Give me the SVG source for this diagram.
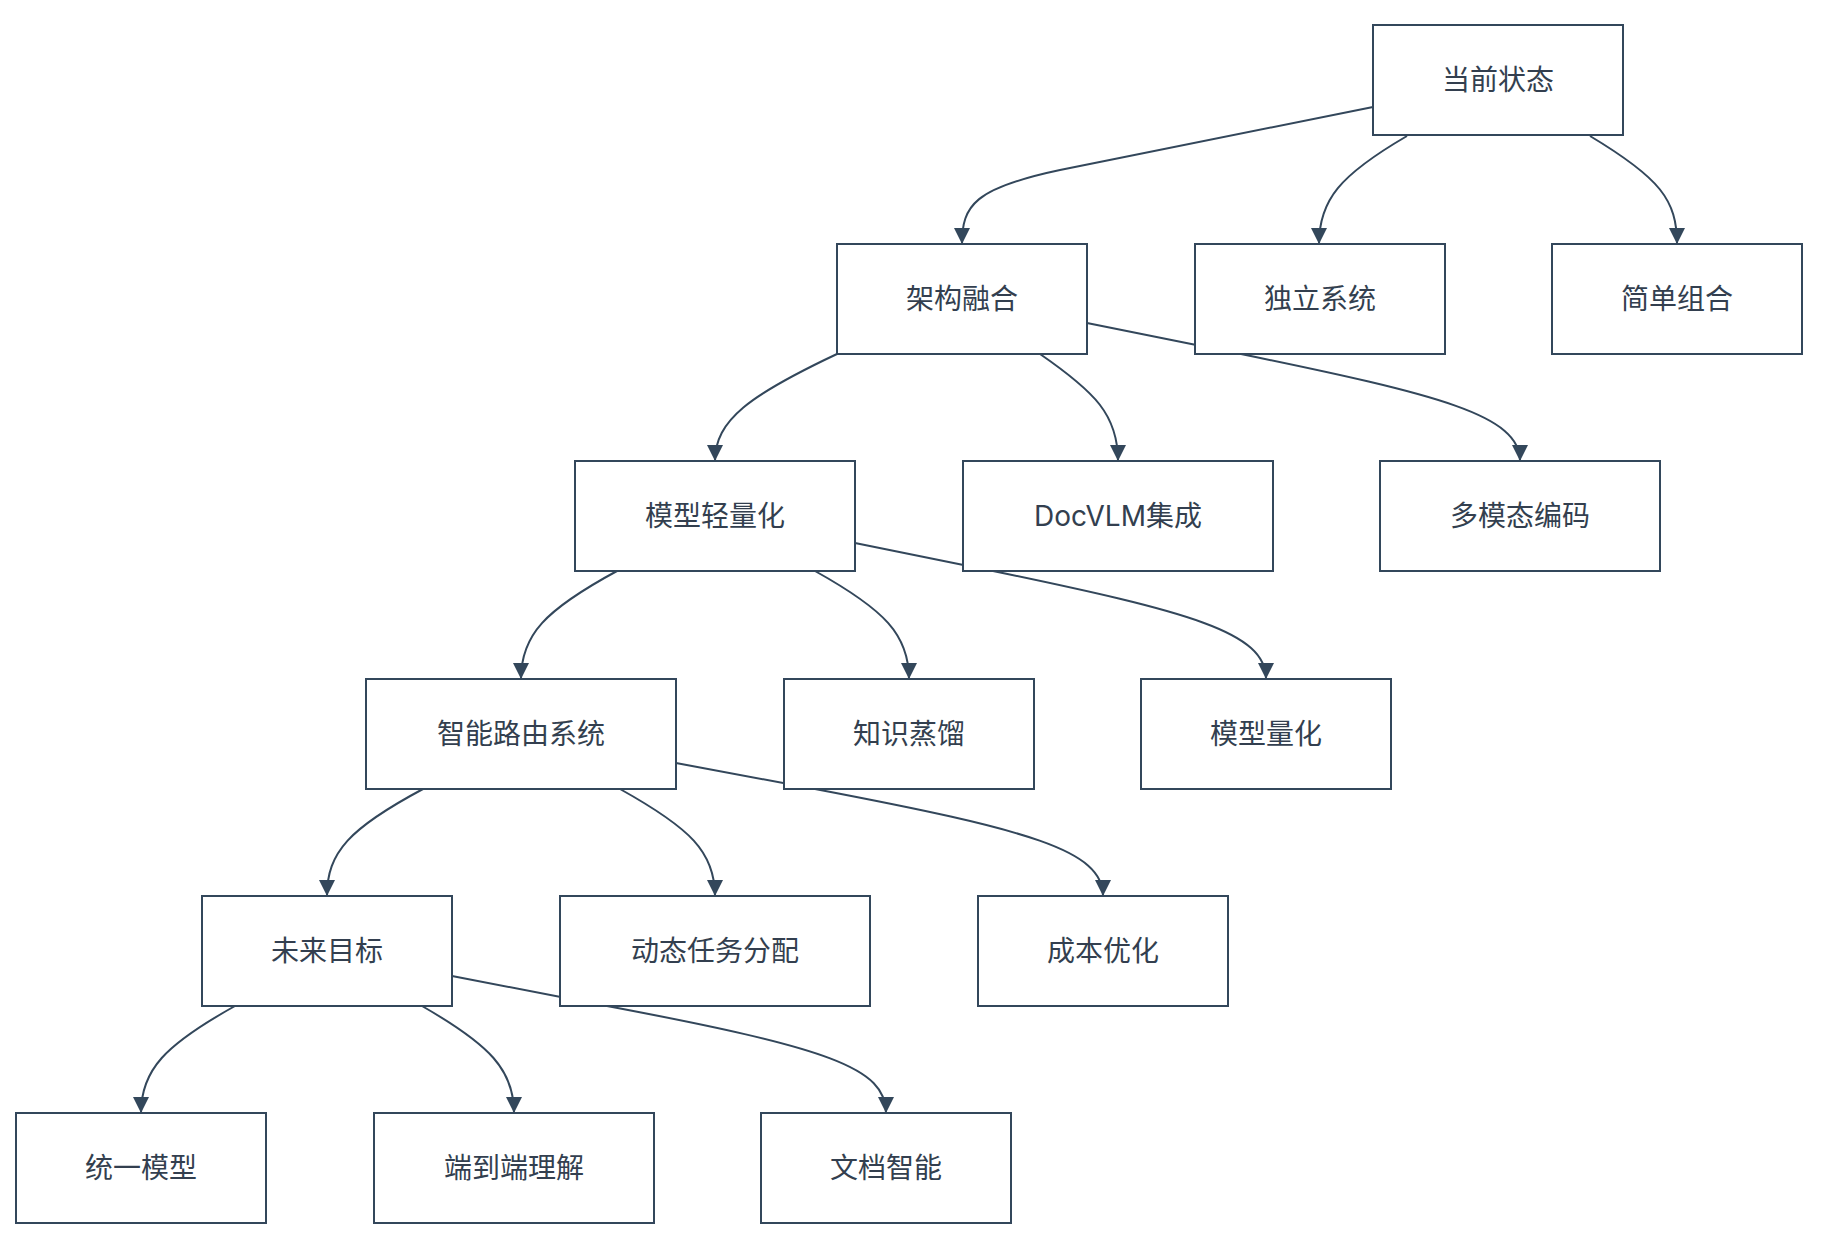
<svg xmlns="http://www.w3.org/2000/svg" width="1821" height="1255" viewBox="0 0 1821 1255">
<style>
.n rect{fill:#fff;stroke:#33475b;stroke-width:2}
.n text{font-family:"Inter","Noto Sans CJK SC",sans-serif;font-size:28px;fill:#333f4f;text-anchor:middle;dominant-baseline:central}
.e path{fill:none;stroke:#33475b;stroke-width:2;marker-end:url(#a)}
</style>
<defs><marker id="a" markerUnits="userSpaceOnUse" markerWidth="18" markerHeight="18" refX="9" refY="16" orient="0" viewBox="0 0 18 18"><path d="M1,0 L17,0 L9,16 Z" fill="#33475b"/></marker></defs>
<rect width="1821" height="1255" fill="#fff"/>
<g id="edges" class="e">
<path d="M1373,107 L1060,170 C975,188 962,205 962,244"/>
<path d="M1407,136 C1340,175 1319,200 1319,244"/>
<path d="M1590,136 C1660,178 1677,200 1677,244"/>
<path d="M837,354 C750,395 715,420 715,461"/>
<path d="M1040,354 C1095,392 1118,415 1118,461"/>
<path d="M1087,323 L1241,354 C1440,395 1520,415 1520,461"/>
<path d="M617,571 C545,610 521,635 521,679"/>
<path d="M815,571 C885,610 909,635 909,679"/>
<path d="M855,543 L993,571 C1190,612 1266,632 1266,679"/>
<path d="M423,789 C350,828 327,852 327,896"/>
<path d="M620,789 C690,828 715,852 715,896"/>
<path d="M676,763 L815,789 C1030,830 1103,850 1103,896"/>
<path d="M235,1006 C165,1045 141,1070 141,1113"/>
<path d="M422,1006 C490,1045 514,1070 514,1113"/>
<path d="M452,976 L607,1006 C830,1048 886,1068 886,1113"/>
</g>
<g id="n1" class="n"><rect x="1373" y="25" width="250" height="110"/><text x="1498" y="80">当前状态</text></g>
<g id="n2" class="n"><rect x="837" y="244" width="250" height="110"/><text x="962" y="299">架构融合</text></g>
<g id="n3" class="n"><rect x="1195" y="244" width="250" height="110"/><text x="1320" y="299">独立系统</text></g>
<g id="n4" class="n"><rect x="1552" y="244" width="250" height="110"/><text x="1677" y="299">简单组合</text></g>
<g id="n5" class="n"><rect x="575" y="461" width="280" height="110"/><text x="715" y="516">模型轻量化</text></g>
<g id="n6" class="n"><rect x="963" y="461" width="310" height="110"/><text x="1118" y="516">DocVLM集成</text></g>
<g id="n7" class="n"><rect x="1380" y="461" width="280" height="110"/><text x="1520" y="516">多模态编码</text></g>
<g id="n8" class="n"><rect x="366" y="679" width="310" height="110"/><text x="521" y="734">智能路由系统</text></g>
<g id="n9" class="n"><rect x="784" y="679" width="250" height="110"/><text x="909" y="734">知识蒸馏</text></g>
<g id="n10" class="n"><rect x="1141" y="679" width="250" height="110"/><text x="1266" y="734">模型量化</text></g>
<g id="n11" class="n"><rect x="202" y="896" width="250" height="110"/><text x="327" y="951">未来目标</text></g>
<g id="n12" class="n"><rect x="560" y="896" width="310" height="110"/><text x="715" y="951">动态任务分配</text></g>
<g id="n13" class="n"><rect x="978" y="896" width="250" height="110"/><text x="1103" y="951">成本优化</text></g>
<g id="n14" class="n"><rect x="16" y="1113" width="250" height="110"/><text x="141" y="1168">统一模型</text></g>
<g id="n15" class="n"><rect x="374" y="1113" width="280" height="110"/><text x="514" y="1168">端到端理解</text></g>
<g id="n16" class="n"><rect x="761" y="1113" width="250" height="110"/><text x="886" y="1168">文档智能</text></g>
</svg>
